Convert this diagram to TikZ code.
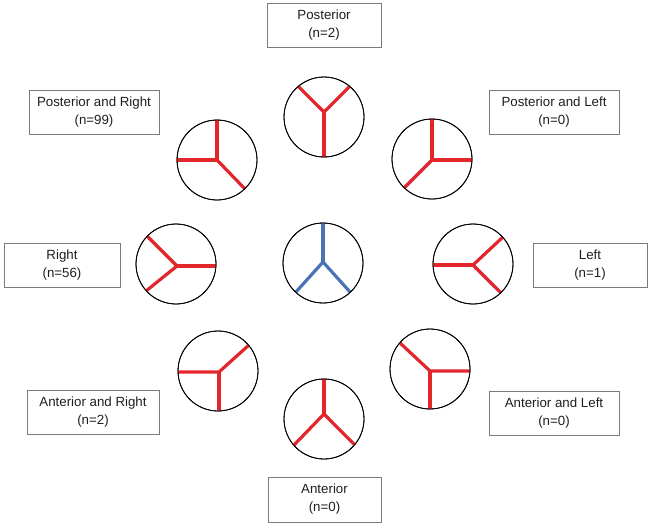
\documentclass[tikz,border=0pt]{standalone}
\usepackage{fontspec}
\setmainfont{Liberation Sans}
\definecolor{armred}{HTML}{E2262C}
\definecolor{armblue}{HTML}{4A72B6}
\definecolor{boxgray}{HTML}{7A7A7A}
\definecolor{txt}{HTML}{1E1E1E}
\begin{document}
\begin{tikzpicture}[x=1pt,y=-1pt,
  lbl/.style={draw=boxgray,line width=0.9pt,rectangle,inner sep=0pt,align=center,
    text=txt,font=\fontsize{13.3}{18}\selectfont},
  wheel/.style={draw=black,line width=0.8pt,circle,minimum size=80pt,inner sep=0pt,outer sep=0pt},
  arm/.style={armred,line width=3.2pt},
  barm/.style={armblue,line width=3.2pt}]
\useasboundingbox (0,0) rectangle (650,525);
% label boxes
\node[lbl,minimum width=114pt,minimum height=44pt] (bPO) at (324,25) {Posterior\\(n=2)};
\node[lbl,minimum width=130pt,minimum height=44pt] (bPR) at (94,112) {Posterior and Right\\(n=99)};
\node[lbl,minimum width=130pt,minimum height=44pt] (bPL) at (554,112) {Posterior and Left\\(n=0)};
\node[lbl,minimum width=116pt,minimum height=44pt] (bR) at (62,265) {Right\\(n=56)};
\node[lbl,minimum width=114pt,minimum height=44pt] (bL) at (590,265) {Left\\(n=1)};
\node[lbl,minimum width=132pt,minimum height=44pt] (bAR) at (93,412) {Anterior and Right\\(n=2)};
\node[lbl,minimum width=130pt,minimum height=44pt] (bAL) at (554,413) {Anterior and Left\\(n=0)};
\node[lbl,minimum width=113pt,minimum height=45pt] (bA) at (324.5,499.5) {Anterior\\(n=0)};
% wheels
\node[wheel] (cPO) at (324,117) {};
\node[wheel] (cPR) at (217,160) {};
\node[wheel] (cPL) at (432,159) {};
\node[wheel] (cR) at (176,264) {};
\node[wheel] (cC) at (323,263) {};
\node[wheel] (cL) at (473,264) {};
\node[wheel] (cAR) at (218,371) {};
\node[wheel] (cAL) at (430,369) {};
\node[wheel] (cA) at (324,419) {};
% arms
\coordinate (jPO) at (324,112);
\draw[arm] (cPO.130) -- (jPO) -- (cPO.50); \draw[arm] (jPO) -- (jPO |- cPO.270);
\coordinate (jPR) at (217,160);
\draw[arm] (jPR |- cPR.90) -- (jPR) -- (cPR.180 |- jPR); \draw[arm] (jPR) -- (cPR.314);
\coordinate (jPL) at (432,160);
\draw[arm] (jPL |- cPL.90) -- (jPL) -- (cPL.0 |- jPL); \draw[arm] (jPL) -- (cPL.226);
\coordinate (jR) at (177,266);
\draw[arm] (cR.136) -- (jR) -- (cR.222); \draw[arm] (jR) -- (cR.0 |- jR);
\coordinate (jC) at (323,262);
\draw[barm] (cC.227) -- (jC) -- (cC.313); \draw[barm] (jC) -- (jC |- cC.90);
\coordinate (jL) at (473,265);
\draw[arm] (cL.42) -- (jL) -- (cL.314); \draw[arm] (jL) -- (cL.180 |- jL);
\coordinate (jAR) at (219,372);
\draw[arm] (cAR.180 |- jAR) -- (jAR) -- (cAR.40); \draw[arm] (jAR) -- (jAR |- cAR.270);
\coordinate (jAL) at (430,371);
\draw[arm] (cAL.0 |- jAL) -- (jAL) -- (cAL.139); \draw[arm] (jAL) -- (jAL |- cAL.270);
\coordinate (jA) at (324,414);
\draw[arm] (cA.221) -- (jA) -- (cA.320); \draw[arm] (jA) -- (jA |- cA.90);
% redraw circle outlines on top
\foreach \c in {cPO,cPR,cPL,cR,cC,cL,cAR,cAL,cA}{\draw[black,line width=0.8pt] (\c) circle (40pt);}
\end{tikzpicture}
\end{document}
